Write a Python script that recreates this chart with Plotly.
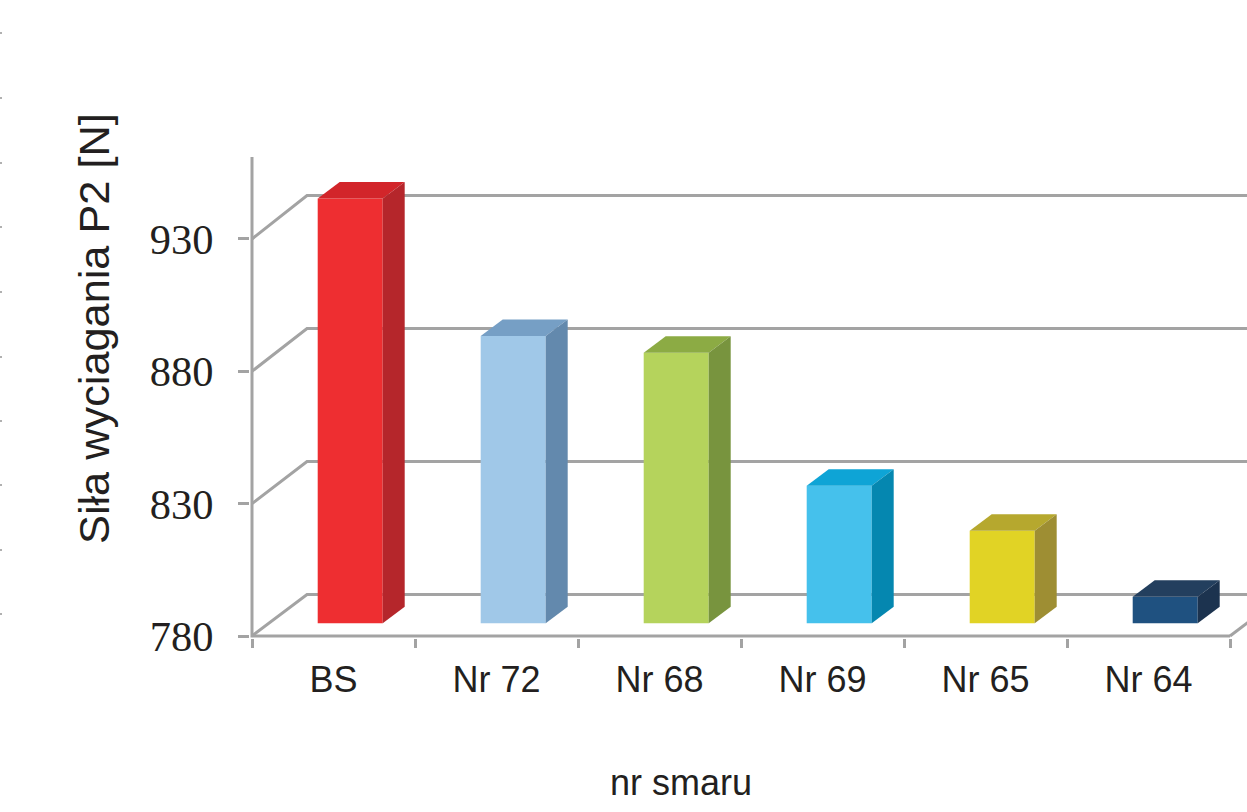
import plotly.graph_objects as go

# Pull-out force per grease
categories = ["BS", "Nr 72", "Nr 68", "Nr 69", "Nr 65", "Nr 64"]
values = [940.5, 888.5, 882.2, 832.0, 815.0, 790.0]
y_ticks = [780, 830, 880, 930]

front_colors = ["#ee2e31", "#a0c8e8", "#b5d35c", "#45c1ec", "#e1d325", "#1f5180"]
top_colors = ["#d2252a", "#769fc5", "#8cab44", "#0ea4d6", "#b6a82e", "#233f5e"]
side_colors = ["#b5262b", "#6389ad", "#78943e", "#0587b0", "#9e8e33", "#1c334f"]

GRAY = "#a3a3a3"
TEXT = "#231f20"
LINE_W = 3

# Page size; the plot area overshoots the axes by PAD pixels so their strokes are not clipped
W, H = 1247, 812
AXIS_X, TOP, AXIS_Y = 252, 157, 636
PAD = 2
LEFT, BOTTOM = AXIS_X - PAD, AXIS_Y + PAD
PX_PER_CAT = 163.0
PX_PER_UNIT = 2.647
base = y_ticks[0]
x_start = -0.5
x_range = [x_start - PAD / PX_PER_CAT, x_start + (W - AXIS_X) / PX_PER_CAT]
y_range = [base - PAD / PX_PER_UNIT, base + (AXIS_Y - TOP) / PX_PER_UNIT]

# Oblique projection: offsets of the back wall and the bar solids, in axis units
wall_dx, wall_dy = 55 / PX_PER_CAT, 41.5 / PX_PER_UNIT
wall_stretch = 1.005  # the back wall is scaled slightly taller than the front plane
bar_shift_x, bar_shift_y = 16.7 / PX_PER_CAT, 12.7 / PX_PER_UNIT
depth_x, depth_y = 22 / PX_PER_CAT, 16.5 / PX_PER_UNIT
bar_width = 65 / PX_PER_CAT

fig = go.Figure()

# Front faces
fig.add_trace(go.Bar(
    x=[i + bar_shift_x for i in range(len(values))],
    y=[v - base for v in values],
    base=[base + bar_shift_y] * len(values),
    width=[bar_width] * len(values),
    marker=dict(color=front_colors, line=dict(width=0)),
    showlegend=False,
))

# Top and side faces of each solid
for i, v in enumerate(values):
    x0 = i + bar_shift_x - bar_width / 2
    x1 = i + bar_shift_x + bar_width / 2
    y0 = base + bar_shift_y
    y1 = v + bar_shift_y
    fig.add_trace(go.Scatter(
        x=[x0, x1, x1 + depth_x, x0 + depth_x, x0],
        y=[y1, y1, y1 + depth_y, y1 + depth_y, y1],
        mode="lines", fill="toself", fillcolor=top_colors[i],
        line=dict(width=0), showlegend=False,
    ))
    fig.add_trace(go.Scatter(
        x=[x1, x1 + depth_x, x1 + depth_x, x1, x1],
        y=[y0, y0 + depth_y, y1 + depth_y, y1, y0],
        mode="lines", fill="toself", fillcolor=side_colors[i],
        line=dict(width=0), showlegend=False,
    ))

# Vertical axis line and the front edge of the floor, stopping at the last category
end_x = len(categories) - 0.5
fig.add_trace(go.Scatter(
    x=[x_start, x_start, end_x], y=[y_range[1], base, base],
    mode="lines", line=dict(color=GRAY, width=LINE_W),
    showlegend=False,
))

# Wall gridlines with their diagonal returns to the front plane, behind the bars
shapes = []
for t in y_ticks:
    bx = x_start + wall_dx
    by = base + (t - base) * wall_stretch + wall_dy
    shapes.append(dict(
        type="path", xref="x", yref="y", layer="below",
        path=f"M {x_start} {t} L {bx} {by} L {x_range[1]} {by}",
        line=dict(color=GRAY, width=LINE_W),
    ))
shapes.append(dict(
    type="line", xref="x", yref="y", layer="below",
    x0=end_x, y0=base, x1=end_x + wall_dx, y1=base + wall_dy,
    line=dict(color=GRAY, width=LINE_W),
))

# Short registration marks along the left page edge
plot_w, plot_h = W - LEFT, BOTTOM - TOP
for py in [33, 98, 163, 227, 292, 357, 421, 485, 550, 614]:
    yp = (BOTTOM - py) / plot_h
    shapes.append(dict(
        type="line", xref="paper", yref="paper",
        x0=-LEFT / plot_w, x1=(2 - LEFT) / plot_w, y0=yp, y1=yp,
        line=dict(color="#b0b0b0", width=2),
    ))

annotations = [
    dict(text="Siła wyciagania P2 [N]", textangle=-90, showarrow=False,
         xref="paper", yref="paper",
         x=(94 - LEFT) / plot_w, y=(BOTTOM - 329) / plot_h,
         xanchor="center", yanchor="middle",
         font=dict(family="Liberation Sans", size=43.3, color=TEXT)),
    dict(text="nr smaru", showarrow=False,
         xref="paper", yref="paper",
         x=(681 - LEFT) / plot_w, y=(BOTTOM - 782) / plot_h,
         xanchor="center", yanchor="middle",
         font=dict(family="Liberation Sans", size=36, color=TEXT)),
]

fig.update_layout(
    width=W, height=H,
    margin=dict(l=LEFT, r=0, t=TOP, b=H - BOTTOM, pad=0),
    paper_bgcolor="white", plot_bgcolor="white",
    showlegend=False, shapes=shapes, annotations=annotations,
    xaxis=dict(
        range=x_range, showgrid=False, zeroline=False, showline=False,
        tickmode="array", tickvals=list(range(len(categories))),
        ticktext=categories, ticks="outside", ticklen=0, tickwidth=0,
        ticklabelstandoff=10,
        tickfont=dict(family="Liberation Sans", size=36, color=TEXT),
        minor=dict(
            tickmode="array",
            tickvals=[i - 0.5 for i in range(len(categories) + 1)],
            ticks="outside", ticklen=9, tickwidth=LINE_W, tickcolor=GRAY,
            showgrid=False,
        ),
    ),
    yaxis=dict(
        range=y_range, showgrid=False, zeroline=False, showline=False,
        tickmode="array", tickvals=y_ticks,
        ticks="outside", ticklen=11, tickwidth=LINE_W, tickcolor=GRAY,
        ticklabelstandoff=16,
        tickfont=dict(family="Liberation Serif", size=42.5, color=TEXT),
    ),
)

fig.write_html("out.html")
